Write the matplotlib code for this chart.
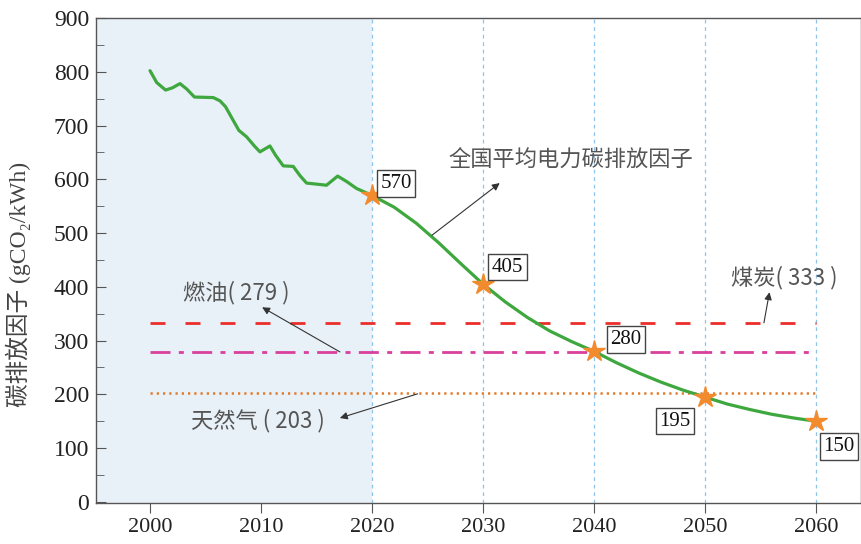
import matplotlib
matplotlib.use("Agg")
import matplotlib.pyplot as plt

# ---- data ----
hist_years = [2000, 2000.6, 2001.4, 2002, 2002.7, 2003.3, 2004, 2005.7, 2006.3,
              2006.8, 2008, 2008.7, 2009.4, 2009.9, 2010.8, 2011.3, 2012,
              2012.9, 2013.5, 2014.1, 2015.9, 2016.9, 2017.7, 2018.6, 2020]
hist_vals = [802, 780, 766, 770, 778, 768, 753, 752, 746, 735, 691, 679, 662,
             651, 662, 645, 625, 624, 607, 593, 589, 606, 596, 583, 570]
proj_years = [2020, 2022, 2024, 2026, 2028, 2030, 2032, 2034, 2036, 2038, 2040,
              2042, 2044, 2046, 2048, 2050, 2052, 2054, 2056, 2058, 2060]
proj_vals = [570, 548, 518, 482, 443, 405, 372, 343, 318, 298, 280,
             259, 240, 223, 208, 195, 182, 172, 163, 156, 150]
mark_years = [2020, 2030, 2040, 2050, 2060]
mark_vals = [570, 405, 280, 195, 150]
mark_labels = ["570", "405", "280", "195", "150"]
coal, oil, gas = 333, 279, 203
x_ticks = [2000, 2010, 2020, 2030, 2040, 2050, 2060]
y_ticks = [0, 100, 200, 300, 400, 500, 600, 700, 800, 900]

SERIF = ['Liberation Serif', 'Noto Sans CJK SC']
CJK = ['Noto Sans CJK SC', 'Liberation Serif']

fig = plt.figure(figsize=(8.62, 5.44), dpi=100)
ax = fig.add_axes([0.1114, 0.0754, 0.8875, 0.8915])
ax.set_xlim(1995.135, 2064.05)
ax.set_ylim(-2, 900)

# shaded historical region
ax.axvspan(1995.135, 2020, color='#E9F1F8', zorder=0, lw=0)
# vertical dashed guides
for xv in [2020, 2030, 2040, 2050, 2060]:
    ax.axvline(xv, color='#8EC3EA', lw=0.9, ls=(0, (3, 3)), zorder=1)

# reference fuel lines
ax.plot([2000, 2060], [coal, coal], color='#EC2E2A', lw=2.0,
        ls=(0, (5.4, 7.2)), zorder=2)
ax.plot([2000, 2060], [oil, oil], color='#D9409C', lw=2.0,
        ls=(0, (7.2, 3, 1.8, 3)), zorder=2)
ax.plot([2000, 2060], [gas, gas], color='#E27A2C', lw=1.8,
        ls=(0, (0.9, 1.6)), zorder=2)

# national average curve
ax.plot(hist_years, hist_vals, color='#3EA83E', lw=2.3, zorder=3,
        solid_capstyle='round', solid_joinstyle='round')
ax.plot(proj_years, proj_vals, color='#3EA83E', lw=2.3, zorder=3,
        solid_capstyle='round', solid_joinstyle='round')
ax.plot(mark_years, mark_vals, ls='none', marker='*', ms=16,
        color='#F28A2E', mec='#F28A2E', zorder=4)

offsets = [(24, 12), (24, 17), (32, 12), (-30, -24), (23, -25)]
for xv, yv, lab, off in zip(mark_years, mark_vals, mark_labels, offsets):
    ax.annotate(lab, (xv, yv), xytext=off, textcoords='offset pixels',
                ha='center', va='center', fontsize=15, family=SERIF,
                color='#111111', zorder=5,
                bbox=dict(boxstyle='square,pad=0.18', fc='white',
                          ec='#444444', lw=1.0))

arrow_kw = dict(arrowstyle='-|>', color='#333333', lw=0.8,
                mutation_scale=11, shrinkA=0, shrinkB=0)
# text labels + arrows
ax.text(2037.9, 635.7, '全国平均电力碳排放因子', ha='center', va='center',
        fontsize=16, family=CJK, color='#555555')
ax.annotate('', xy=(2031.5, 593), xytext=(2025.4, 496), arrowprops=arrow_kw)

ax.text(2057.1, 418, '煤炭( 333 )', ha='center', va='center',
        fontsize=16, family=CJK, color='#555555')
ax.annotate('', xy=(2055.8, 390), xytext=(2055.3, 333), arrowprops=arrow_kw)

ax.text(2007.8, 390, '燃油( 279 )', ha='center', va='center',
        fontsize=16, family=CJK, color='#555555')
ax.annotate('', xy=(2010.1, 362), xytext=(2017.1, 279), arrowprops=arrow_kw)

ax.text(2009.7, 150.6, '天然气 ( 203 )', ha='center', va='center',
        fontsize=16, family=CJK, color='#555555')
ax.annotate('', xy=(2017.1, 156), xytext=(2024.1, 201), arrowprops=arrow_kw)

# axes styling
for s in ['left', 'bottom', 'top', 'right']:
    ax.spines[s].set_color('#555555')
    ax.spines[s].set_linewidth(1.0)
ax.set_xticks(x_ticks)
ax.set_xticks([1995 + 5 * i for i in range(1, 14, 2)], minor=True)
ax.set_yticks(y_ticks)
ax.set_yticks([50 + 100 * i for i in range(9)], minor=True)
ax.tick_params(axis='x', which='major', direction='out', length=7,
               color='#555555', labelsize=16, pad=4)
ax.tick_params(axis='x', which='minor', direction='out', length=4,
               color='#555555')
ax.tick_params(axis='y', which='major', direction='in', length=7,
               color='#555555', labelsize=17, pad=5)
ax.tick_params(axis='y', which='minor', direction='in', length=6,
               color='#555555')
for lbl in ax.get_xticklabels() + ax.get_yticklabels():
    lbl.set_family(SERIF)
    lbl.set_color('#222222')

ax.set_ylabel('碳排放因子 (gCO₂/kWh)', fontsize=17, family=SERIF,
              color='#444444')
ax.yaxis.set_label_coords(-0.085, 0.45)

fig.savefig('out.png', dpi=100)
